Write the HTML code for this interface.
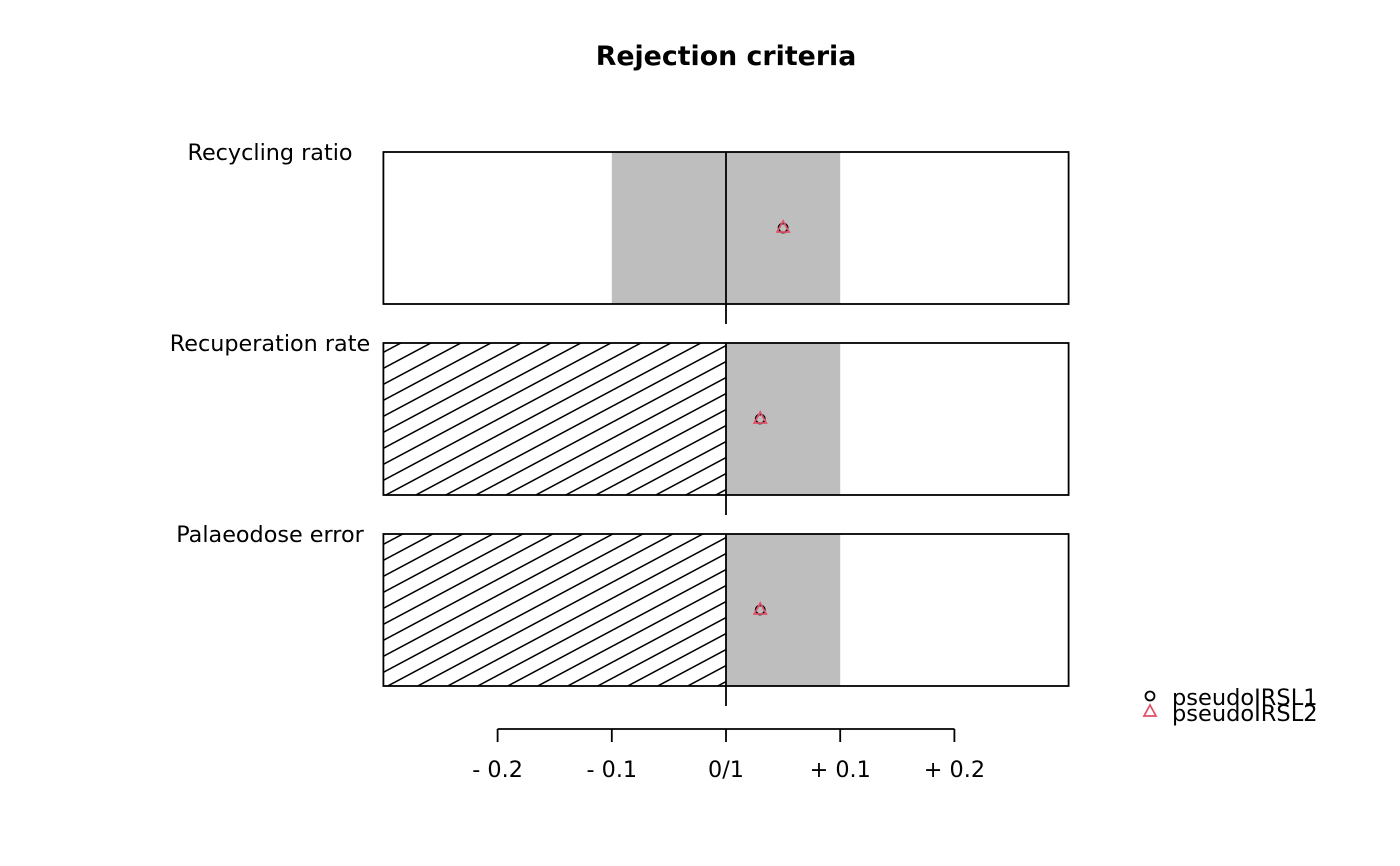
<!DOCTYPE html>
<html><head><meta charset="utf-8"><style>body{margin:0;background:#fff}svg{display:block;font-family:"DejaVu Sans","Liberation Sans",sans-serif}</style></head>
<body>
<svg id="chart" width="1400" height="866" viewBox="0 0 1400 866" xmlns="http://www.w3.org/2000/svg">
<defs>
<pattern id="hatch" patternUnits="userSpaceOnUse" width="30" height="16" x="384" y="0">
<line x1="-30" y1="32" x2="60" y2="-16" stroke="#000" stroke-width="1.5"/>
<line x1="-30" y1="16" x2="30" y2="-16" stroke="#000" stroke-width="1.5"/>
<line x1="0" y1="32" x2="60" y2="0" stroke="#000" stroke-width="1.5"/>
</pattern>
</defs>
<text x="726" y="65" text-anchor="middle" font-weight="bold" font-size="26.8">Rejection criteria</text>
<g id="panels"></g>
<g id="axis"></g>
<g>
<circle cx="1150" cy="696" r="4.5" fill="none" stroke="#000" stroke-width="1.8"/>
<text x="1172" y="705" font-size="22.5">pseudoIRSL1</text>
<polygon points="1150,705 1156,716 1144,716" fill="none" stroke="#DF536B" stroke-width="1.8"/>
<text x="1172" y="721" font-size="22.5">pseudoIRSL2</text>
</g>
</svg>
<script>
const criteria = ["Recycling ratio", "Recuperation rate", "Palaeodose error"];
const bandLow = [-0.1, 0, 0];
const bandHigh = [0.1, 0.1, 0.1];
const hatchTo = [null, 0, 0];
const series1 = [0.05, 0.03, 0.03];
const series2 = [0.05, 0.03, 0.03];
const tickValues = [-0.2, -0.1, 0, 0.1, 0.2];
const tickLabels = ["- 0.2", "- 0.1", "0/1", "+ 0.1", "+ 0.2"];

const NS = "http://www.w3.org/2000/svg";
const x = v => 726 + v * 1142;
const panelTop = i => 152 + i * 191;
const PH = 152;
function mk(tag, attrs, parent) { const e = document.createElementNS(NS, tag); for (const k in attrs) e.setAttribute(k, attrs[k]); parent.appendChild(e); return e; }
const panels = document.getElementById('panels');
criteria.forEach((c, i) => {
  const t = panelTop(i);
  const g = mk('g', {}, panels);
  
  
  if (hatchTo[i] !== null) {
    const h = mk('rect', { x: x(-0.3), y: t, width: x(hatchTo[i]) - x(-0.3), height: PH, fill: 'url(#hatch)' }, g);
    
    
  }
  const b = mk('rect', { x: x(bandLow[i]), y: t, width: x(bandHigh[i]) - x(bandLow[i]), height: PH, fill: '#BEBEBE' }, g);
  
  
  const f = mk('rect', { x: x(-0.3), y: t, width: x(0.3) - x(-0.3), height: PH, fill: 'none', stroke: '#000', 'stroke-width': 1.8 }, g);
  
  
  const l = mk('line', { x1: x(0), x2: x(0), y1: t, y2: t + PH + 20, stroke: '#000', 'stroke-width': 1.8 }, g);
  
  
  const lb = mk('text', { x: 270, y: t + 8, 'text-anchor': 'middle', 'font-size': 22.3 }, g);
  lb.textContent = c;
  
  
  const cy = t + PH / 2;
  const p1 = mk('circle', { cx: x(series1[i]), cy: cy, r: 4.5, fill: 'none', stroke: '#000', 'stroke-width': 1.8 }, g);
  
  
  const px = x(series2[i]);
  const p2 = mk('polygon', { points: `${px},${cy - 7} ${px + 6},${cy + 4} ${px - 6},${cy + 4}`, fill: 'none', stroke: '#DF536B', 'stroke-width': 1.8 }, g);
  
  
});
const ax = document.getElementById('axis');
const al = mk('line', { x1: x(tickValues[0]), x2: x(tickValues[tickValues.length - 1]), y1: 729, y2: 729, stroke: '#000', 'stroke-width': 1.8 }, ax);


tickValues.forEach((v, i) => {
  const tk = mk('line', { x1: x(v), x2: x(v), y1: 729, y2: 742, stroke: '#000', 'stroke-width': 1.8 }, ax);
  
  
  const tl = mk('text', { x: x(v), y: 777, 'text-anchor': 'middle', 'font-size': 22.3 }, ax);
  tl.textContent = tickLabels[i];
  
  
});
</script>
</body></html>
